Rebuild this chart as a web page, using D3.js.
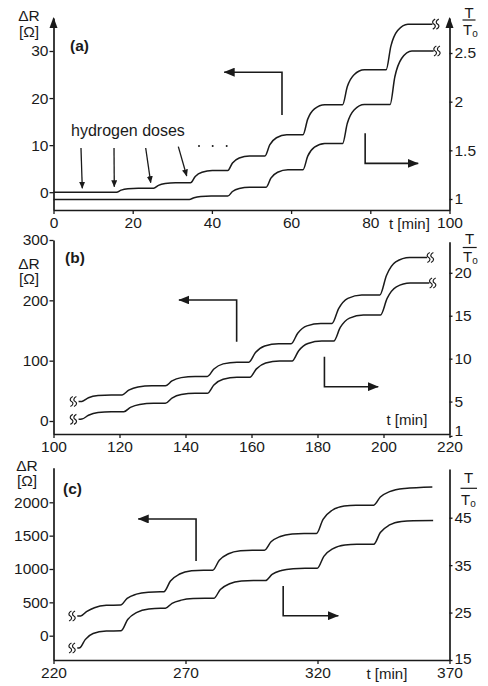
<!DOCTYPE html>
<html><head><meta charset="utf-8">
<script src="https://cdn.jsdelivr.net/npm/d3@7"></script>
<style>
body{margin:0;background:#fff}
svg{display:block}
text{font-family:"Liberation Sans",Arial,sans-serif;fill:#1a1a1a}
</style>
</head><body>
<svg id="chart" width="488" height="686"></svg>
<script>
// ---------------- data ----------------
const aTicksX = [0, 20, 40, 60, 80, 100];
const aTicksL = [0, 10, 20, 30];
const aTicksR = [1, 1.5, 2, 2.5];
const bTicksX = [100, 120, 140, 160, 180, 200, 220];
const bTicksL = [0, 100, 200, 300];
const bTicksR = [1, 5, 10, 15, 20];
const cTicksX = [220, 270, 320, 370];
const cTicksL = [0, 500, 1000, 1500, 2000];
const cTicksR = [15, 25, 35, 45];

// panel (a): [t min, ΔR Ω]
const aResistance = [[0,0],[15.9,0],[17.1,0.44],[18.8,0.73],[21.4,0.85],
[25.3,0.85],[26.5,1.45],[28.2,1.84],[30.8,2.0],
[34.6,2.0],[35.8,3.35],[37.5,4.24],[40.1,4.6],
[44,4.6],[45.2,6.21],[46.9,7.27],[49.5,7.7],
[53.4,7.7],[54.6,10.04],[56.3,11.57],[58.9,12.2],
[63,12.2],[64.2,15.53],[65.9,17.7],[68.5,18.6],
[73,18.6],[74.2,22.45],[75.9,24.96],[78.5,26],
[84,26],[85.2,31.04],[86.9,34.34],[89.5,35.7],
[95.7,35.7]];
// panel (a): [t min, T/To]
const aTemperature = [[0,0.995],[34.3,0.995],[35.5,1.013],[37.2,1.025],[39.8,1.03],
[44,1.03],[45.2,1.077],[46.9,1.107],[49.5,1.12],
[53.7,1.12],[54.9,1.214],[56.6,1.275],[59.2,1.30],
[63,1.30],[64.2,1.44],[65.9,1.532],[68.5,1.57],
[73,1.57],[74.2,1.778],[75.9,1.914],[78.5,1.97],
[85,1.97],[86.2,2.256],[87.9,2.443],[90.5,2.52],
[96,2.52]];
const bResistance = [[107.6,32.2],[108.6,32.5],[110.6,38.5],[113.5,42.2],[117.5,43.3],
[120.8,43.3],[122.8,51.1],[125.6,56.5],[129.8,58.3],
[133.9,58.3],[135.9,66.4],[138.7,71.9],[142.9,73.8],
[146.6,73.8],[148.6,86.1],[151.4,94.7],[155.6,97.5],
[159.2,97.5],[161.2,113.4],[164,124.3],[168.2,128],
[172,128],[174,145.5],[176.8,157.7],[181,161.7],
[184.4,161.7],[186.4,186.3],[189.2,203.3],[193.4,209],
[198.9,209],[200.9,241.2],[203.7,263.6],[207.9,271],
[213.2,271]];
const bTemperature = [[107.6,2.93],[108.6,2.96],[110.6,3.4],[113.5,3.72],[117.5,3.82],
[121.3,3.82],[123.3,4.32],[126.1,4.67],[130.3,4.79],
[133.9,4.79],[135.9,5.4],[138.7,5.82],[142.9,5.96],
[146.6,5.96],[148.6,6.93],[151.4,7.6],[155.6,7.82],
[159.5,7.82],[161.5,8.81],[164.3,9.49],[168.5,9.72],
[172.3,9.72],[174.3,10.93],[177.1,11.77],[181.3,12.05],
[184.9,12.05],[186.9,13.63],[189.7,14.72],[193.9,15.08],
[199.1,15.08],[201.1,17.02],[203.9,18.36],[208.1,18.81],
[213.9,18.81]];
const cResistance = [[229,295],[230.3,297],[232.5,360],[235.5,420],[240,455],
[245.4,460],[247.9,559.5],[251.4,623.2],[255.9,653],[260.4,659],
[261.8,659],[264.3,821],[267.8,924.7],[272.3,973.3],[276.8,983],
[280.3,983],[282.8,1132.5],[286.3,1228.2],[290.8,1273],[295.3,1282],
[299.9,1282],[302.4,1407.5],[305.9,1487.8],[310.4,1525.5],[314.9,1533],
[319.6,1533],[322.1,1745],[325.6,1880.7],[330.1,1944.3],[334.6,1957],
[341.3,1957],[343.8,2080],[347.3,2160],[353,2208],[363.5,2231]];
const cTemperature = [[229,17.53],[230,17.6],[232,19.3],[235,20.6],[240,21.1],
[245.6,21.18],[248.1,23.54],[251.6,25.05],[256.1,25.76],[260.6,25.9],
[262.4,25.9],[264.9,26.95],[268.4,27.62],[272.9,27.94],[277.4,28.0],
[280.7,28.0],[283.2,29.88],[286.7,31.08],[291.2,31.65],[295.7,31.76],
[300.3,31.76],[302.8,33.05],[306.3,33.87],[310.8,34.25],[315.3,34.33],
[319.9,34.33],[322.4,36.86],[325.9,38.48],[330.4,39.24],[334.9,39.39],
[341.3,39.39],[343.8,41.88],[347.3,43.47],[351.8,44.22],[356.3,44.37],[363.8,44.4]];

// hydrogen dose arrows in panel (a): [t start, ΔR start, t end, ΔR end]
const aDoseArrows = [[6.94,9.39,7.27,0.83],[15.28,9.39,15.35,1.17],[23.28,9.39,24.55,2.02],[31.52,9.67,33.64,3.44]];
const aDots = [36.74, 40.2, 43.74];

// ---------------- layout ----------------
const svg = d3.select("#chart");
const X0 = 53.5, X1 = 449.5;
const FS = 15.5;
const INK = "#1a1a1a";

function scaleFrom(v0, p0, v1, p1, pBottom, pTop) {
  const s = d3.scaleLinear().domain([v0, v1]).range([p0, p1]);
  return d3.scaleLinear().domain([s.invert(pBottom), s.invert(pTop)]).range([pBottom, pTop]);
}

const defs = svg.append("defs");
function marker(id, w, h) {
  defs.append("marker").attr("id", id).attr("viewBox", `0 ${-h/2} ${w} ${h}`)
    .attr("markerUnits", "userSpaceOnUse").attr("markerWidth", w).attr("markerHeight", h)
    .attr("refX", w - 0.5).attr("refY", 0).attr("orient", "auto")
    .append("path").attr("d", `M0,${-h/2}L${w},0L0,${h/2}Z`).attr("fill", INK);
}
marker("big", 11, 9);
marker("small", 7, 6);

const panels = [
  { xDomain: [0, 100], bottom: 210, top: 18,
    yL: scaleFrom(0, 192.2, 30, 51, 210, 18), yR: scaleFrom(1, 199, 2.5, 53, 210, 18),
    xTicks: aTicksX, lTicks: aTicksL, rTicks: aTicksR,
    upper: aResistance, lower: aTemperature, arrows: true, startBreak: false, endBreak: true,
    label: "(a)", labelPos: [70, 51], dR: [29, 21], ohm: [29, 37],
    frac: { cx: 469, t1: 18, line: 20, x0: 462.5, x1: 475.5, t2: 35, t2x: 463 },
    tmin: [389, 229], lowShift: 0,
    leftArrow: [[57.7, 16.4], [57.7, 25.5], [43.1, 25.5]],
    rightArrow: [[78.7, 1.675], [78.7, 1.366], [92.1, 1.366]] },
  { xDomain: [100, 220], bottom: 434, top: 240,
    yL: scaleFrom(0, 421, 300, 240, 434, 240), yR: scaleFrom(1, 435.9, 20, 272.8, 434, 241.7),
    xTicks: bTicksX, lTicks: bTicksL, rTicks: bTicksR,
    upper: bResistance, lower: bTemperature, arrows: false, startBreak: true, endBreak: true,
    label: "(b)", labelPos: [65, 263], dR: [29, 268.5], ohm: [29, 284],
    frac: { cx: 469.5, t1: 243.5, line: 247.5, x0: 462.7, x1: 476.7, t2: 262, t2x: 463 },
    tmin: [386.5, 425], lowShift: -5,
    leftArrow: [[155.5, 131.4], [155.5, 200.6], [138.0, 200.6]],
    rightArrow: [[182.1, 10.22], [182.1, 6.73], [198.4, 6.73]] },
  { xDomain: [220, 370], bottom: 660, top: 467.7,
    yL: scaleFrom(0, 635.7, 2000, 502.3, 660, 467.7), yR: scaleFrom(15, 660, 45, 517.7, 660, 469),
    xTicks: cTicksX, lTicks: cTicksL, rTicks: cTicksR,
    upper: cResistance, lower: cTemperature, arrows: false, startBreak: true, endBreak: false,
    label: "(c)", labelPos: [63, 494], dR: [27, 470.5], ohm: [27, 486],
    frac: { cx: 468.5, t1: 483, line: 488.3, x0: 460.5, x1: 477, t2: 505, t2x: 461 },
    tmin: [366.5, 678.5], lowShift: -1.5,
    leftArrow: [[274, 1120], [274, 1750], [252.1, 1750]],
    rightArrow: [[307, 30.6], [307, 24.34], [327.9, 24.34]] }
];

function breakSym(g, x, y) {
  [0, 3.6].forEach(dx => {
    g.append("path")
      .attr("d", `M${x+dx+1.2},${y-5} C${x+dx-2.2},${y-3.5} ${x+dx-1.8},${y-0.8} ${x+dx},${y} C${x+dx+1.8},${y+0.8} ${x+dx+2.2},${y+3.5} ${x+dx-1.2},${y+5}`)
      .attr("fill", "none").attr("stroke", INK).attr("stroke-width", 1.2);
  });
}

function styleAxis(g) {
  g.selectAll("path.domain").attr("stroke", INK).attr("stroke-width", 1.7);
  g.selectAll(".tick line").attr("stroke", INK).attr("stroke-width", 1.3);
  g.selectAll(".tick text").attr("fill", INK)
    .style("font-family", '"Liberation Sans", Arial, sans-serif').style("font-size", FS + "px");
}

panels.forEach(p => {
  const g = svg.append("g");
  const x = d3.scaleLinear().domain(p.xDomain).range([X0, X1]);

  // axes
  const gx = g.append("g").attr("transform", `translate(0,${p.bottom})`)
    .call(d3.axisBottom(x).tickValues(p.xTicks).tickSize(4).tickSizeOuter(0).tickPadding(3).tickFormat(d => d));
  styleAxis(gx);
  const gl = g.append("g").attr("transform", `translate(${X0},0)`)
    .call(d3.axisLeft(p.yL).tickValues(p.lTicks).tickSize(4).tickSizeOuter(0).tickPadding(1).tickFormat(d => d));
  styleAxis(gl);
  const gr = g.append("g").attr("transform", `translate(${X1},0)`)
    .call(d3.axisRight(p.yR).tickValues(p.rTicks).tickSize(3).tickSizeOuter(0).tickPadding(2).tickFormat(d => String(d)));
  styleAxis(gr);
  // lowest right-axis label sits just above the time labels
  gr.selectAll(".tick text").filter(d => d === p.rTicks[0]).attr("y", p.lowShift);

  if (p.arrows) {
    [X0, X1].forEach(ax => {
      g.append("path").attr("d", `M${ax},${p.top - 1}L${ax - 4},${p.top + 10}L${ax + 4},${p.top + 10}Z`).attr("fill", INK);
    });
  }

  // curves
  const lineL = d3.line().x(d => x(d[0])).y(d => p.yL(d[1])).curve(d3.curveMonotoneX);
  const lineR = d3.line().x(d => x(d[0])).y(d => p.yR(d[1])).curve(d3.curveMonotoneX);
  g.append("path").datum(p.upper).attr("d", lineL).attr("fill", "none").attr("stroke", INK).attr("stroke-width", 1.5);
  g.append("path").datum(p.lower).attr("d", lineR).attr("fill", "none").attr("stroke", INK).attr("stroke-width", 1.5);

  // break symbols
  const uF = p.upper[0], uL = p.upper[p.upper.length - 1];
  const lF = p.lower[0], lL = p.lower[p.lower.length - 1];
  if (p.startBreak) {
    breakSym(g, x(uF[0]) - 7, p.yL(uF[1]));
    breakSym(g, x(lF[0]) - 7, p.yR(lF[1]));
  }
  if (p.endBreak) {
    breakSym(g, x(uL[0]) + 1.5, p.yL(uL[1]));
    breakSym(g, x(lL[0]) + 1.5, p.yR(lL[1]));
  }

  // direction arrows
  const la = d3.line().x(d => x(d[0])).y(d => p.yL(d[1]));
  const ra = d3.line().x(d => x(d[0])).y(d => p.yR(d[1]));
  g.append("path").datum(p.leftArrow).attr("d", la).attr("fill", "none").attr("stroke", INK)
    .attr("stroke-width", 1.6).attr("marker-end", "url(#big)");
  g.append("path").datum(p.rightArrow).attr("d", ra).attr("fill", "none").attr("stroke", INK)
    .attr("stroke-width", 1.6).attr("marker-end", "url(#big)");

  // labels
  g.append("text").attr("x", p.labelPos[0]).attr("y", p.labelPos[1]).attr("font-weight", "bold")
    .attr("font-size", FS).text(p.label);
  g.append("text").attr("x", p.dR[0]).attr("y", p.dR[1]).attr("text-anchor", "middle").attr("font-size", FS).text("ΔR");
  g.append("text").attr("x", p.ohm[0]).attr("y", p.ohm[1]).attr("text-anchor", "middle").attr("font-size", FS).text("[Ω]");
  g.append("text").attr("x", p.frac.cx).attr("y", p.frac.t1).attr("text-anchor", "middle").attr("font-size", 15).text("T");
  g.append("line").attr("x1", p.frac.x0).attr("x2", p.frac.x1).attr("y1", p.frac.line).attr("y2", p.frac.line)
    .attr("stroke", INK).attr("stroke-width", 1.2);
  const t2 = g.append("text").attr("x", p.frac.t2x).attr("y", p.frac.t2).attr("font-size", 15);
  t2.append("tspan").text("T");
  t2.append("tspan").attr("font-size", 10).attr("dy", 2).text("o");
  g.append("text").attr("x", p.tmin[0]).attr("y", p.tmin[1]).attr("font-size", 15).text("t [min]");

  if (p.label === "(a)") {
    g.append("text").attr("x", x(4.42)).attr("y", p.yL(11.9)).attr("font-size", 16).text("hydrogen doses");
    aDoseArrows.forEach(a => {
      g.append("line").attr("x1", x(a[0])).attr("y1", p.yL(a[1])).attr("x2", x(a[2])).attr("y2", p.yL(a[3]))
        .attr("stroke", INK).attr("stroke-width", 1.3).attr("marker-end", "url(#small)");
    });
    aDots.forEach(t => {
      g.append("circle").attr("cx", x(t)).attr("cy", p.yL(9.82)).attr("r", 1).attr("fill", INK);
    });
  }
});
</script>
</body></html>
